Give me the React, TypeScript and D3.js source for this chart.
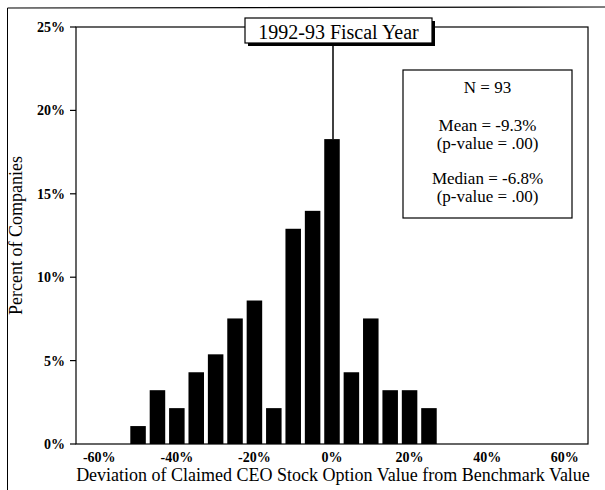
import React from "react";
import * as d3 from "d3";

const binCenters = [-50, -45, -40, -35, -30, -25, -20, -15, -10, -5, 0, 5, 10, 15, 20, 25];
const binCounts = [1, 3, 2, 4, 5, 7, 8, 2, 12, 13, 17, 4, 7, 3, 3, 2];
const totalN = 93;
const yTicks = [0, 5, 10, 15, 20, 25];
const xTicks = [-60, -40, -20, 0, 20, 40, 60];
const statLines = ["N = 93", "Mean = -9.3%", "(p-value = .00)", "Median = -6.8%", "(p-value = .00)"];
const titleText = "1992-93 Fiscal Year";
const xLabel = "Deviation of Claimed CEO Stock Option Value from Benchmark Value";
const yLabel = "Percent of Companies";

const W = 605;
const H = 490;
const L = 76, R = 588, T = 27, B = 444;
const FONT = "'Liberation Serif', 'Times New Roman', serif";

export default function App() {
  const x = d3.scaleLinear().domain([-66, 66]).range([L, R]);
  const y = d3.scaleLinear().domain([0, 25]).range([B, T]);
  const pct = binCounts.map((c) => (c / totalN) * 100);
  const binW = x(5) - x(0);
  const barW = binW * 0.8;
  const lineX = x(0) + 1;
  const titleCx = 338.5;
  const titleW = 187, titleH = 25, titleTop = 18;
  const boxL = 403, boxR = 572, boxT = 70, boxB = 218;
  const statY = [93, 131, 149, 184, 202];

  return (
    <svg width={W} height={H} style={{ position: "absolute", left: 0, top: 0, background: "#fff" }}>
      <rect x={0} y={0} width={W} height={H} fill="#fff" />
      {/* outer frame */}
      <line x1={7.5} y1={8} x2={7.5} y2={H} stroke="#000" strokeWidth={1} />
      <line x1={7.5} y1={8} x2={W} y2={7} stroke="#000" strokeWidth={1.2} />
      {/* plot frame */}
      <rect x={L} y={T} width={R - L} height={B - T} fill="none" stroke="#000" strokeWidth={1.2} />
      {/* bars */}
      {binCenters.map((c, i) => (
        <rect key={i} x={x(c) - barW / 2} y={y(pct[i])} width={barW} height={B - y(pct[i])} fill="#000" />
      ))}
      {/* y ticks */}
      {yTicks.map((t) => (
        <g key={t}>
          <line x1={L - 6} x2={L} y1={y(t)} y2={y(t)} stroke="#000" strokeWidth={1.2} />
          <text x={L - 11} y={y(t)} dy="0.35em" textAnchor="end" fontFamily={FONT} fontSize={14} fontWeight="bold">
            {t}%
          </text>
        </g>
      ))}
      {/* x tick labels */}
      {xTicks.map((t) => (
        <text key={t} x={x(t)} y={462} textAnchor="middle" fontFamily={FONT} fontSize={14} fontWeight="bold">
          {t}%
        </text>
      ))}
      <text x={(L + R) / 2 + 1} y={481} textAnchor="middle" fontFamily={FONT} fontSize={18}>
        {xLabel}
      </text>
      <text
        transform={`translate(22, ${(T + B) / 2}) rotate(-90)`}
        textAnchor="middle"
        fontFamily={FONT}
        fontSize={18}
      >
        {yLabel}
      </text>
      {/* title connector */}
      <line x1={lineX} x2={lineX} y1={titleTop + titleH} y2={y(pct[10])} stroke="#000" strokeWidth={1.5} />
      {/* title box with shadow */}
      <rect x={titleCx - titleW / 2 + 3} y={titleTop + 3} width={titleW} height={titleH} fill="#000" />
      <rect x={titleCx - titleW / 2} y={titleTop} width={titleW} height={titleH} fill="#fff" stroke="#000" strokeWidth={1.2} />
      <text x={titleCx} y={titleTop + titleH / 2 + 1} dy="0.35em" textAnchor="middle" fontFamily={FONT} fontSize={20}>
        {titleText}
      </text>
      {/* stats box */}
      <rect x={boxL} y={boxT} width={boxR - boxL} height={boxB - boxT} fill="#fff" stroke="#000" strokeWidth={1.2} />
      {statLines.map((s, i) => (
        <text key={i} x={(boxL + boxR) / 2} y={statY[i]} textAnchor="middle" fontFamily={FONT} fontSize={17}>
          {s}
        </text>
      ))}
    </svg>
  );
}
